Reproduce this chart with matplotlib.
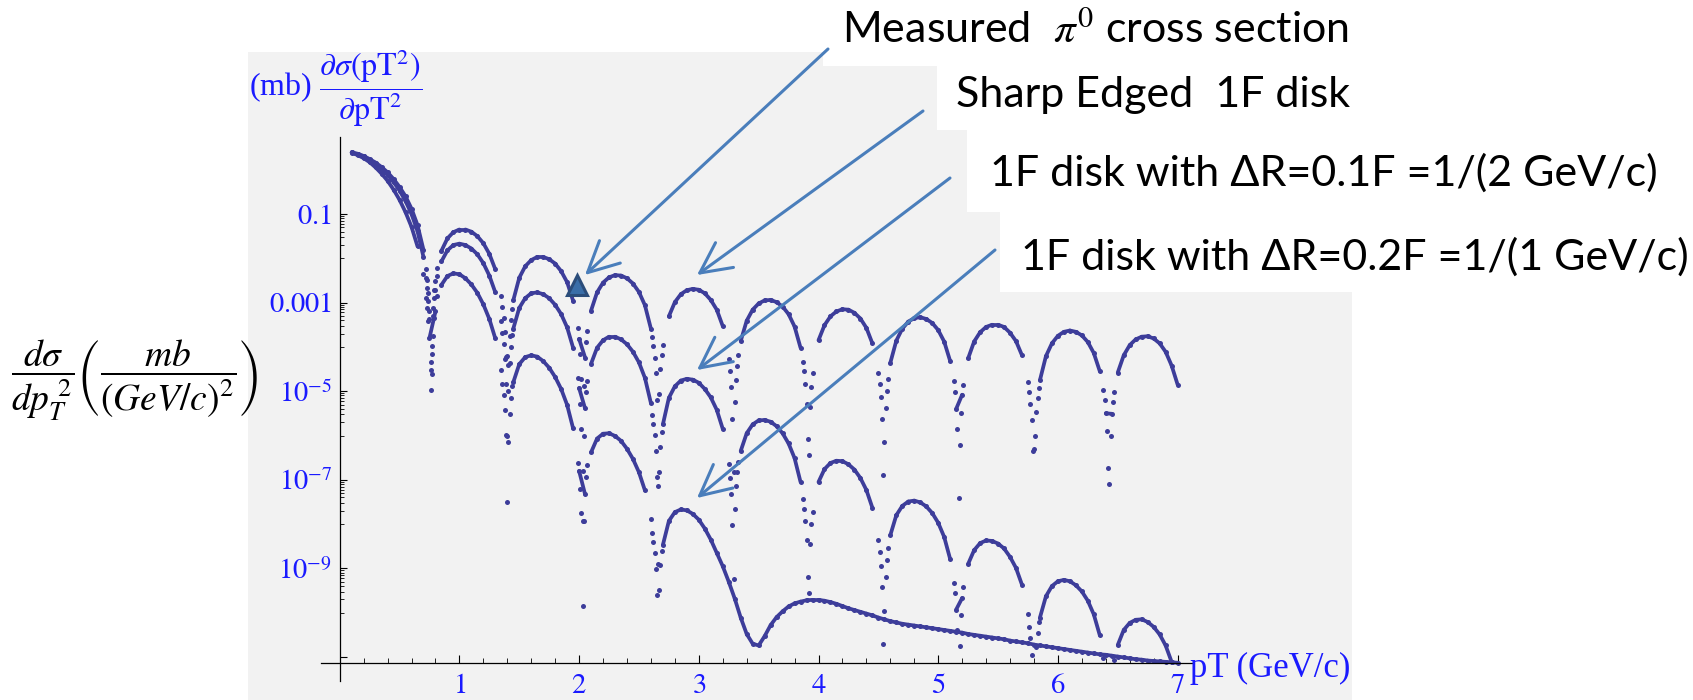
import numpy as np
import matplotlib.pyplot as plt
from matplotlib.patches import Rectangle, FancyArrowPatch
from matplotlib.collections import LineCollection
from matplotlib.ticker import FixedLocator, FixedFormatter, NullFormatter
from matplotlib.transforms import IdentityTransform

plt.rcParams['mathtext.fontset'] = 'stix'
plt.rcParams['font.family'] = ['Liberation Serif', 'DejaVu Serif']

# pT sample points (GeV/c)
pt = [0.10, 0.15, 0.20, 0.25, 0.30, 0.35, 0.40, 0.45, 0.50, 0.55, 0.60, 0.65, 0.70, 0.75, 0.80, 0.85, 0.90, 0.95, 1.00, 1.05,
      1.10, 1.15, 1.20, 1.25, 1.30, 1.35, 1.40, 1.45, 1.50, 1.55, 1.60, 1.65, 1.70, 1.75, 1.80, 1.85, 1.90, 1.95, 2.00, 2.05,
      2.10, 2.15, 2.20, 2.25, 2.30, 2.35, 2.40, 2.45, 2.50, 2.55, 2.60, 2.65, 2.70, 2.75, 2.80, 2.85, 2.90, 2.95, 3.00, 3.05,
      3.10, 3.15, 3.20, 3.25, 3.30, 3.35, 3.40, 3.45, 3.50, 3.55, 3.60, 3.65, 3.70, 3.75, 3.80, 3.85, 3.90, 3.95, 4.00, 4.05,
      4.10, 4.15, 4.20, 4.25, 4.30, 4.35, 4.40, 4.45, 4.50, 4.55, 4.60, 4.65, 4.70, 4.75, 4.80, 4.85, 4.90, 4.95, 5.00, 5.05,
      5.10, 5.15, 5.20, 5.25, 5.30, 5.35, 5.40, 5.45, 5.50, 5.55, 5.60, 5.65, 5.70, 5.75, 5.80, 5.85, 5.90, 5.95, 6.00, 6.05,
      6.10, 6.15, 6.20, 6.25, 6.30, 6.35, 6.40, 6.45, 6.50, 6.55, 6.60, 6.65, 6.70, 6.75, 6.80, 6.85, 6.90, 6.95, 7.00]

# log10 of dsigma/dpT^2 in mb, one list per disk model
sharp_1f = [0.39, 0.36, 0.31, 0.24, 0.16, 0.06, -0.06, -0.21, -0.39, -0.60, -0.88, -1.25, -1.81, -3.18, -2.51, -1.83, -1.55, -1.41, -1.35, -1.35,
            -1.40, -1.50, -1.66, -1.90, -2.25, -2.86, -4.20, -2.95, -2.44, -2.18, -2.04, -1.97, -1.97, -2.02, -2.12, -2.29, -2.54, -2.96, -3.82, -4.24,
            -3.18, -2.77, -2.55, -2.43, -2.38, -2.39, -2.45, -2.57, -2.76, -3.06, -3.59, -5.20, -3.96, -3.31, -2.99, -2.81, -2.72, -2.69, -2.71, -2.79,
            -2.94, -3.16, -3.53, -4.27, -5.24, -3.87, -3.41, -3.16, -3.02, -2.95, -2.94, -2.99, -3.09, -3.26, -3.54, -4.02, -5.28, -4.59, -3.85, -3.51,
            -3.31, -3.20, -3.15, -3.16, -3.23, -3.36, -3.57, -3.92, -4.58, -6.14, -4.36, -3.86, -3.59, -3.43, -3.35, -3.33, -3.37, -3.46, -3.62, -3.88,
            -4.32, -5.40, -5.08, -4.26, -3.88, -3.67, -3.55, -3.50, -3.50, -3.55, -3.68, -3.87, -4.19, -4.80, -6.30, -4.75, -4.21, -3.92, -3.75, -3.66,
            -3.63, -3.66, -3.74, -3.89, -4.14, -4.55, -5.50, -5.51, -4.58, -4.19, -3.96, -3.83, -3.77, -3.76, -3.81, -3.92, -4.11, -4.42, -4.85]

soft_01f = [0.39, 0.35, 0.30, 0.22, 0.13, 0.02, -0.12, -0.28, -0.47, -0.71, -1.00, -1.39, -1.97, -3.37, -2.72, -2.07, -1.82, -1.70, -1.67, -1.70,
            -1.78, -1.91, -2.11, -2.39, -2.77, -3.42, -7.50, -3.59, -3.12, -2.90, -2.79, -2.77, -2.81, -2.90, -3.05, -3.26, -3.56, -4.02, -4.93, -5.39,
            -4.38, -4.02, -3.85, -3.77, -3.77, -3.83, -3.94, -4.11, -4.35, -4.70, -5.27, -6.94, -5.75, -5.15, -4.89, -4.76, -4.72, -4.74, -4.81, -4.95,
            -5.14, -5.42, -5.85, -6.64, -7.66, -6.35, -5.95, -5.75, -5.66, -5.65, -5.69, -5.79, -5.95, -6.18, -6.51, -7.05, -8.36, -7.73, -7.05, -6.76,
            -6.62, -6.57, -6.58, -6.65, -6.77, -6.96, -7.23, -7.63, -8.35, -9.97, -8.25, -7.80, -7.59, -7.49, -7.47, -7.51, -7.60, -7.75, -7.97, -8.29,
            -8.79, -9.93, -9.67, -8.90, -8.59, -8.43, -8.37, -8.38, -8.44, -8.55, -8.74, -8.99, -9.37, -10.04, -11.60, -10.11, -9.63, -9.40, -9.29, -9.26,
            -9.29, -9.38, -9.52, -9.73, -10.04, -10.51, -11.52, -11.60, -10.73, -10.39, -10.23, -10.16, -10.15, -10.21, -10.32, -10.49, -10.74, -11.11, -11.60]

soft_02f = [0.38, 0.33, 0.26, 0.17, 0.05, -0.09, -0.25, -0.45, -0.68, -0.96, -1.29, -1.73, -2.36, -3.80, -3.20, -2.60, -2.40, -2.34, -2.36, -2.45,
            -2.59, -2.78, -3.04, -3.37, -3.81, -4.52, -6.00, -4.80, -4.39, -4.23, -4.19, -4.22, -4.32, -4.47, -4.68, -4.95, -5.31, -5.84, -6.80, -7.33,
            -6.38, -6.07, -5.96, -5.95, -6.01, -6.12, -6.30, -6.53, -6.83, -7.24, -7.88, -9.60, -8.47, -7.93, -7.73, -7.67, -7.69, -7.77, -7.90, -8.10,
            -8.35, -8.65, -8.95, -9.30, -9.68, -10.11, -10.48, -10.70, -10.74, -10.53, -10.28, -10.10, -9.97, -9.86, -9.79, -9.75, -9.72, -9.71, -9.71, -9.73,
            -9.76, -9.80, -9.85, -9.90, -9.94, -9.98, -10.02, -10.06, -10.11, -10.15, -10.19, -10.22, -10.25, -10.27, -10.29, -10.31, -10.33, -10.35, -10.37, -10.39,
            -10.41, -10.43, -10.45, -10.48, -10.50, -10.52, -10.54, -10.56, -10.58, -10.60, -10.63, -10.65, -10.67, -10.69, -10.72, -10.74, -10.76, -10.78, -10.80, -10.82,
            -10.84, -10.86, -10.88, -10.90, -10.92, -10.94, -10.95, -10.97, -10.99, -11.01, -11.03, -11.05, -11.06, -11.08, -11.09, -11.10, -11.11, -11.12, -11.13]

# extra samples around the diffraction minima
null_pt = [0.72, 0.73, 0.74, 0.76, 0.77, 0.78, 0.79, 0.81,
           1.36, 1.37, 1.38, 1.39, 1.41, 1.42, 1.43, 1.44,
           1.99, 2.01, 2.02, 2.03, 2.04, 2.06, 2.07,
           2.61, 2.62, 2.63, 2.64, 2.66, 2.67, 2.68, 2.69,
           3.26, 3.27, 3.28, 3.29, 3.31, 3.32, 3.33,
           3.87, 3.88, 3.89, 3.91, 3.92, 3.93, 3.94,
           4.51, 4.52, 4.53, 4.54, 4.56, 4.57, 4.58,
           5.13, 5.14, 5.16, 5.17, 5.18, 5.19, 5.21,
           5.76, 5.77, 5.78, 5.79, 5.81, 5.82, 5.83, 5.84,
           6.38, 6.39, 6.41, 6.42, 6.43, 6.44, 6.46, 6.47]

sharp_1f_null = [-2.25, -2.48, -2.78, -4.33, -3.97, -3.12, -2.71, -2.21,
                 -3.09, -3.34, -3.67, -4.23, -4.40, -3.76, -3.40, -3.14,
                 -3.58, -4.16, -4.72, -6.80, -4.89, -3.89, -3.63,
                 -3.78, -3.98, -4.24, -4.60, -7.15, -5.07, -4.51, -4.18,
                 -4.54, -4.91, -5.62, -6.82, -4.74, -4.42, -4.18,
                 -4.33, -4.55, -4.83, -6.09, -6.45, -5.36, -4.90,
                 -4.83, -5.13, -5.62, -6.90, -5.39, -5.00, -4.73,
                 -4.77, -5.01, -5.85, -7.41, -6.21, -5.50, -4.87,
                 -5.02, -5.28, -5.65, -6.36, -6.00, -5.48, -5.16, -4.92,
                 -4.98, -5.20, -5.89, -6.74, -7.10, -6.01, -5.25, -5.02]

soft_01f_null = [-2.44, -2.67, -2.97, -4.52, -4.16, -3.31, -2.90, -2.40,
                 -3.69, -3.94, -4.27, -4.83, -5.00, -4.36, -4.00, -3.74,
                 -4.71, -5.29, -5.85, -7.93, -6.02, -5.02, -4.76,
                 -5.53, -5.73, -5.99, -6.35, -8.90, -6.82, -6.26, -5.93,
                 -6.95, -7.32, -8.03, -9.23, -7.15, -6.83, -6.59,
                 -7.43, -7.65, -7.93, -9.19, -9.55, -8.46, -8.00,
                 -8.64, -8.94, -9.43, -10.71, -9.20, -8.81, -8.54,
                 -9.32, -9.56, -10.40, -11.96, -10.76, -10.05, -9.42,
                 -10.32, -10.58, -10.95, -11.66, -11.30, -10.78, -10.46, -10.22,
                 -11.03, -11.25, -11.94, -12.79, -13.15, -12.06, -11.30, -11.07]

soft_02f_null_pt = [0.72, 0.73, 0.74, 0.76, 0.77, 0.78, 0.79, 0.81,
                    1.36, 1.37, 1.38, 1.39, 1.41, 1.42, 1.43, 1.44,
                    1.99, 2.01, 2.02, 2.03, 2.04, 2.06, 2.07,
                    2.61, 2.62, 2.63, 2.64, 2.66, 2.67, 2.68, 2.69]
soft_02f_null = [-2.89, -3.12, -3.42, -4.97, -4.61, -3.76, -3.35, -2.85,
                 -4.84, -5.09, -5.42, -5.98, -6.15, -5.51, -5.15, -4.89,
                 -6.62, -7.20, -7.76, -9.84, -7.93, -6.93, -6.67,
                 -8.20, -8.40, -8.66, -9.02, -11.57, -9.49, -8.93, -8.60]

# measured pi0 point
measured_pt = [1.98]
measured_log = [-2.60]

ytick_exp = [-1, -3, -5, -7, -9, -11]
ytick_labels = ['$0.1$', '$0.001$', '$10^{-5}$', '$10^{-7}$', '$10^{-9}$', '']
xtick_vals = [1, 2, 3, 4, 5, 6, 7]

W, H = 1693, 700
blue_txt = '#1a1aff'
dot_col = '#3d3d9a'
arrow_col = '#4a7ebb'

# pixel layout of the plot
px0, px_per = 339.7, 119.7        # pT = 0 position and pixels per GeV/c
py1, py_per = 214.0, 44.3         # 0.1 mb position and pixels per decade
xlo, xhi = -0.5, 7.2
ylo, yhi = -11.6, 0.9
floor_log = -11.2                 # nothing is drawn below the pT axis


def draw_curve(ax, x, logy, col, joined=True):
    x = np.asarray(x)
    ly = np.asarray(logy)
    keep = ly > floor_log
    y = 10.0 ** ly
    if joined:
        # join neighbouring samples only where the curve is gentle, steep parts stay as dots
        segs = [[(x[i], y[i]), (x[i + 1], y[i + 1])] for i in range(len(x) - 1)
                if keep[i] and keep[i + 1] and abs(ly[i + 1] - ly[i]) < 0.6]
        ax.add_collection(LineCollection(segs, colors=col, linewidths=2.7, capstyle='round'))
    ax.plot(x[keep], y[keep], ls='none', marker='o', ms=3.6, mew=0, color=col)


fig = plt.figure(figsize=(W / 100, H / 100), dpi=100)
fig.patch.set_facecolor('white')

# grey plot panel and white label boxes
fig.add_artist(Rectangle((248 / W, 0), (1352 - 248) / W, (H - 52) / H, transform=fig.transFigure,
                         facecolor='#f2f2f2', edgecolor='none', zorder=-3))
for bx, by0, by1 in [(823, 0, 66), (937, 66, 130), (967, 130, 212), (1000, 212, 292)]:
    fig.add_artist(Rectangle((bx / W, 1 - by1 / H), (W - bx) / W, (by1 - by0) / H, transform=fig.transFigure,
                             facecolor='white', edgecolor='none', zorder=-2))

left = px0 + xlo * px_per
right = px0 + xhi * px_per
top = py1 - (yhi + 1) * py_per
bottom = py1 - (ylo + 1) * py_per
ax = fig.add_axes([left / W, 1 - bottom / H, (right - left) / W, (bottom - top) / H])
ax.patch.set_visible(False)
ax.set_yscale('log')
ax.set_xlim(xlo, xhi)
ax.set_ylim(10.0 ** ylo, 10.0 ** yhi)

draw_curve(ax, pt, soft_02f, dot_col)
draw_curve(ax, pt, soft_01f, dot_col)
draw_curve(ax, pt, sharp_1f, dot_col)
draw_curve(ax, soft_02f_null_pt, soft_02f_null, dot_col, joined=False)
draw_curve(ax, null_pt, soft_01f_null, dot_col, joined=False)
draw_curve(ax, null_pt, sharp_1f_null, dot_col, joined=False)
ax.plot(measured_pt, 10.0 ** np.asarray(measured_log), ls='none', marker='^', ms=15,
        mfc='#3a6ea8', mec='#2b4d7a', mew=2.2, zorder=5)

# Mathematica style axes crossing inside the frame
for s in ['top', 'right']:
    ax.spines[s].set_visible(False)
x_axis_level = 10.0 ** -11.14
ax.spines['left'].set_position(('data', 0.0))
ax.spines['bottom'].set_position(('data', x_axis_level))
ax.spines['left'].set_bounds(10.0 ** -11.55, 10.0 ** 0.74)
ax.spines['bottom'].set_bounds(-0.16, 7.12)
for s in ['left', 'bottom']:
    ax.spines[s].set_linewidth(0.9)

ax.yaxis.set_major_locator(FixedLocator([10.0 ** e for e in ytick_exp]))
ax.yaxis.set_major_formatter(FixedFormatter(ytick_labels))
minor_y = [m * 10.0 ** (e - 1) for e in ytick_exp[:-1] for m in range(1, 10)]
ax.yaxis.set_minor_locator(FixedLocator(minor_y))
ax.yaxis.set_minor_formatter(NullFormatter())

ax.xaxis.set_major_locator(FixedLocator(xtick_vals))
ax.xaxis.set_major_formatter(FixedFormatter(['$%d$' % v for v in xtick_vals]))
minor_x = [i / 5 for i in range(1, 36) if i % 5]
ax.xaxis.set_minor_locator(FixedLocator(minor_x))

ax.tick_params(axis='y', which='major', direction='in', length=5, width=0.8, labelsize=20.5,
               labelcolor=blue_txt, pad=5.5)
ax.tick_params(axis='y', which='minor', direction='in', length=3, width=0.6)
ax.tick_params(axis='x', which='major', direction='in', length=6, width=0.8, labelsize=20.5,
               labelcolor=blue_txt, pad=8)
ax.tick_params(axis='x', which='minor', direction='in', length=3.5, width=0.6)

# axis titles
fig.text(249 / W, 1 - 88 / H, r'(mb) $\dfrac{\partial\sigma(\mathrm{pT}^2)}{\partial\mathrm{pT}^2}$',
         color=blue_txt, fontsize=23, ha='left', va='center')
fig.text(1190 / W, 1 - 668 / H, 'pT (GeV/c)', color=blue_txt, fontsize=25, ha='left', va='center')
fig.text(135 / W, 1 - 380 / H,
         r'$\dfrac{d\sigma}{dp_T^{\ 2}}\left(\dfrac{mb}{\left(GeV/c\right)^{2}}\right)$',
         color='black', fontsize=27, ha='center', va='center')

# annotation labels
note_font = ['Lato', 'DejaVu Sans']
note_size = 31
fig.text(842 / W, 1 - 30 / H, r'Measured  $\pi^0$ cross section', family=note_font, fontsize=note_size,
         ha='left', va='center')
fig.text(956 / W, 1 - 95 / H, 'Sharp Edged  1F disk', family=note_font, fontsize=note_size,
         ha='left', va='center')
fig.text(990 / W, 1 - 173 / H, '1F disk with \u0394R=0.1F =1/(2 GeV/c)', family=note_font,
         fontsize=note_size, ha='left', va='center')
fig.text(1021 / W, 1 - 257 / H, '1F disk with \u0394R=0.2F =1/(1 GeV/c)', family=note_font,
         fontsize=note_size, ha='left', va='center')

# arrows from the labels to the curves (pixel positions, y down)
for (tx, ty), (hx, hy) in [((828, 49), (585, 275)), ((923, 111), (697, 275)),
                           ((950, 178), (697, 370)), ((995, 250), (697, 498))]:
    fig.add_artist(FancyArrowPatch((tx, H - ty), (hx, H - hy), transform=IdentityTransform(),
                                   arrowstyle='->,head_length=1.1,head_width=0.55', mutation_scale=20,
                                   color=arrow_col, lw=2.2, shrinkA=0, shrinkB=0, zorder=6))

fig.savefig('out.png', dpi=100)
